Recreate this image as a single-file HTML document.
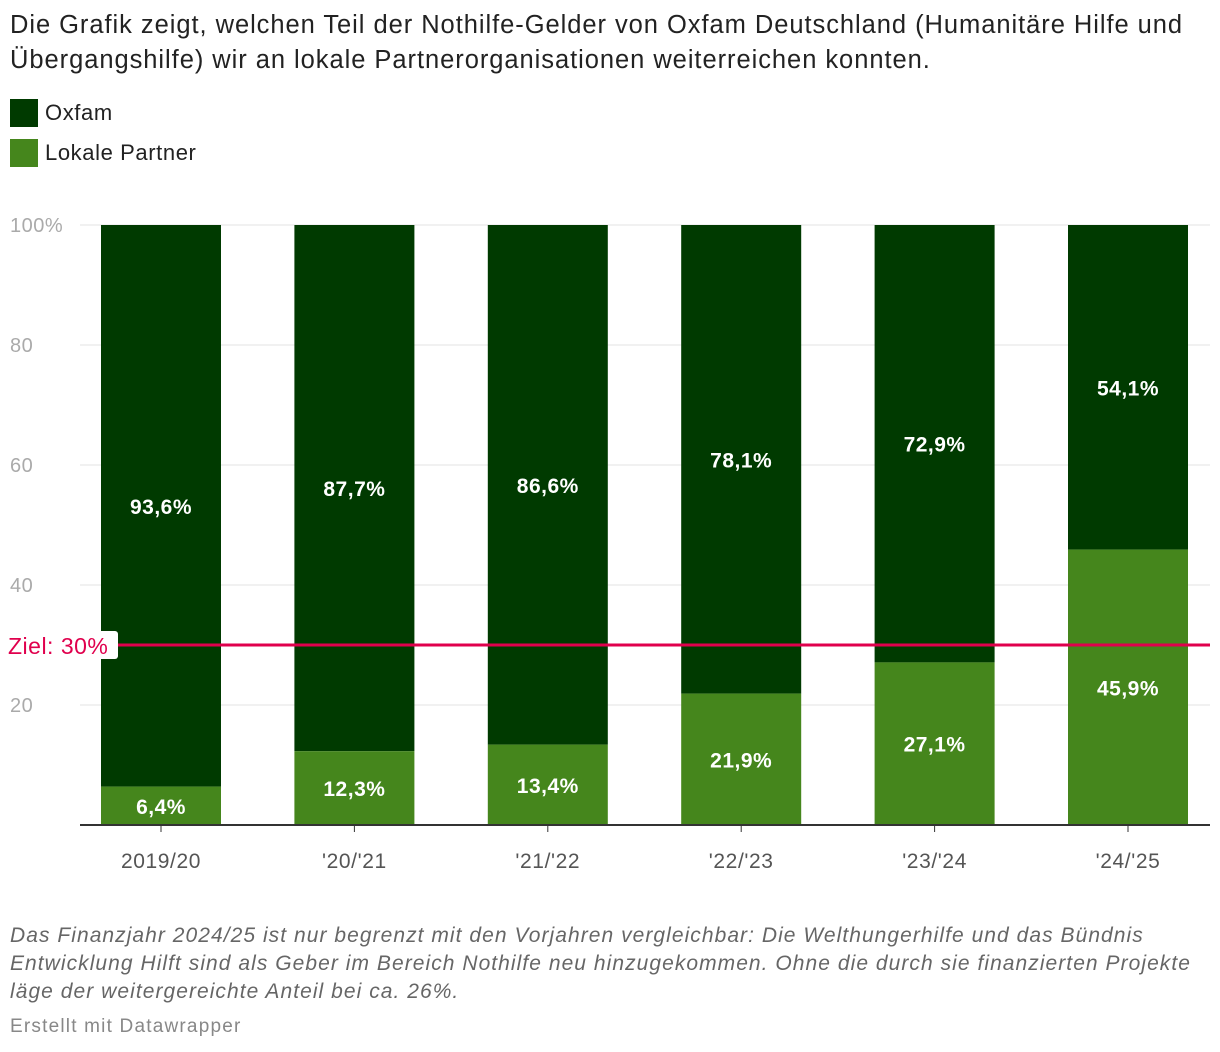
<!DOCTYPE html>
<html><head><meta charset="utf-8">
<style>
body{margin:0;background:#fff;width:1220px;height:1052px;overflow:hidden;font-family:"Liberation Sans",sans-serif;}
.title{position:absolute;left:10px;top:8px;width:1210px;font-size:25.5px;line-height:35px;color:#222;letter-spacing:0.95px;white-space:nowrap;}
.leg{position:absolute;left:10px;font-size:22px;color:#222;display:flex;align-items:center;letter-spacing:0.6px;}
.leg span.sw{width:28px;height:28px;display:inline-block;margin-right:7px;}
.note{position:absolute;left:10px;top:922px;width:1210px;font-size:21px;line-height:28px;color:#666;font-style:italic;letter-spacing:1.05px;white-space:nowrap;}
.credit{position:absolute;left:10px;top:1016px;font-size:19px;color:#888;letter-spacing:1.2px;}
svg{position:absolute;left:0;top:0;}
</style></head><body>
<div class="title">Die Grafik zeigt, welchen Teil der Nothilfe-Gelder von Oxfam Deutschland (Humanitäre Hilfe und<br>Übergangshilfe) wir an lokale Partnerorganisationen weiterreichen konnten.</div>
<div class="leg" style="top:99px"><span class="sw" style="background:#003a00"></span>Oxfam</div>
<div class="leg" style="top:139px"><span class="sw" style="background:#45861c"></span>Lokale Partner</div>
<svg id="chart" width="1220" height="1052"></svg>
<div class="note">Das Finanzjahr 2024/25 ist nur begrenzt mit den Vorjahren vergleichbar: Die Welthungerhilfe und das Bündnis<br>Entwicklung Hilft sind als Geber im Bereich Nothilfe neu hinzugekommen. Ohne die durch sie finanzierten Projekte<br>läge der weitergereichte Anteil bei ca. 26%.</div>
<div class="credit">Erstellt mit Datawrapper</div>
<script>
const categories=["2019/20","'20/'21","'21/'22","'22/'23","'23/'24","'24/'25"];
const partner=[6.4,12.3,13.4,21.9,27.1,45.9];
const oxfam=[93.6,87.7,86.6,78.1,72.9,54.1];
const yTicks=[20,40,60,80,100];
const target=30;
const svg=document.getElementById('chart');
const NS="http://www.w3.org/2000/svg";
const y=v=>825-v*6;
const x=i=>161+i*193.4;
const bw=120;
function el(t,a,txt){const e=document.createElementNS(NS,t);for(const k in a)e.setAttribute(k,a[k]);if(txt!=null)e.textContent=txt;svg.appendChild(e);return e;}
yTicks.forEach(t=>{
 const g=el('line',{x1:80,x2:1210,y1:y(t),y2:y(t),stroke:'#e3e3e3','stroke-width':1});
 
 
 const l=el('text',{x:10,y:y(t)+7,'font-size':20,fill:'#aaa','letter-spacing':0.5},t===100?'100%':String(t));
 
 
});
categories.forEach((c,i)=>{
 const cx=x(i);
 const r1=el('rect',{x:cx-bw/2,y:y(100),width:bw,height:y(partner[i])-y(100),fill:'#003a00'});
 
 
 const r2=el('rect',{x:cx-bw/2,y:y(partner[i]),width:bw,height:y(0)-y(partner[i]),fill:'#45861c'});
 
 
 const fmt=v=>v.toFixed(1).replace('.',',')+'%';
 const t1=el('text',{x:cx,y:(y(100)+y(partner[i]))/2+8,'font-size':21,'font-weight':'bold',fill:'#fff','text-anchor':'middle','letter-spacing':0.5},fmt(oxfam[i]));
 
 
 const t2=el('text',{x:cx,y:(y(partner[i])+y(0))/2+8,'font-size':21,'font-weight':'bold',fill:'#fff','text-anchor':'middle','letter-spacing':0.5},fmt(partner[i]));
 
 
 const tk=el('line',{x1:cx,x2:cx,y1:825,y2:832,stroke:'#333','stroke-width':1});
 
 
 const xl=el('text',{x:cx,y:868,'font-size':21,fill:'#555','text-anchor':'middle','letter-spacing':0.6},c);
 
 
});
const ax=el('line',{x1:80,x2:1210,y1:825,y2:825,stroke:'#333','stroke-width':2});


const tl=el('line',{x1:10,x2:1210,y1:y(target),y2:y(target),stroke:'#e0004d','stroke-width':3});


const bg=el('rect',{x:6,y:y(target)-14,width:112,height:28,fill:'#fff',rx:3});


const tt=el('text',{x:8,y:y(target)+9,'font-size':23,fill:'#e0004d','letter-spacing':0.5},'Ziel: 30%');


</script>
</body></html>
